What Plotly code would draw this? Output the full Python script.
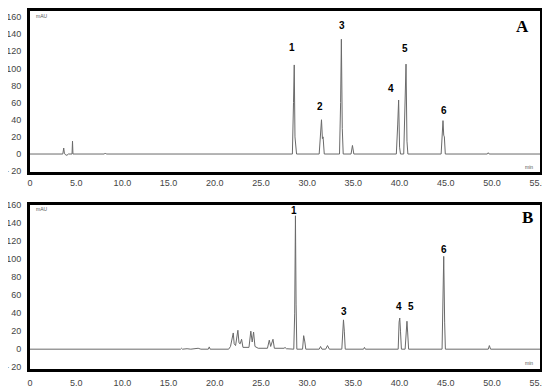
import plotly.graph_objects as go

# panel A chromatogram (time in min, signal in mAU)
time_a = [0.0, 3.55, 3.65, 3.72, 3.85, 4.0, 4.15, 4.55, 4.6, 4.65, 8.05, 8.15, 8.25,
          28.4, 28.52, 28.6, 28.68, 28.75, 28.85, 31.3, 31.45, 31.55, 31.65, 31.72, 31.85,
          33.5, 33.62, 33.7, 33.8, 33.9, 34.75, 34.9, 35.05, 39.65, 39.8, 39.9, 40.0, 40.1,
          40.45, 40.57, 40.7, 40.8, 40.9, 44.5, 44.62, 44.7, 44.78, 44.85, 44.95,
          49.5, 49.6, 49.7, 55.2]
signal_a = [0, 0, 7, 1, -1, -1.5, 0, 0, 15, 0, 0, 1.2, 0,
            0, 60, 104, 20, 12, 0, 0, 25, 40, 18, 20, 0,
            0, 60, 134, 30, 0, 0, 10, 0, 0, 35, 63, 8, 0,
            0, 60, 105, 15, 0, 0, 28, 39, 22, 20, 0,
            0, 1.5, 0, 0]

# panel B chromatogram
time_b = [0.0, 3.4, 3.5, 3.6, 4.2, 4.3, 4.4, 16.3, 16.4, 16.5, 17.0, 17.4, 18.2, 18.5,
          19.3, 19.4, 19.5, 21.5, 21.7, 21.85, 22.0, 22.1, 22.25, 22.5, 22.62, 22.75, 22.9, 23.05,
          23.7, 23.9, 24.05, 24.2, 24.35, 24.7, 25.7, 25.9, 26.05, 26.3, 26.45, 27.5, 27.6, 27.75,
          28.55, 28.65, 28.73, 28.8, 28.88, 29.5, 29.62, 29.75, 29.85, 31.3, 31.45, 31.6,
          32.0, 32.2, 32.4, 33.75, 33.86, 33.93, 34.02, 34.12, 36.1, 36.2, 36.3,
          39.85, 39.95, 40.02, 40.1, 40.2, 40.6, 40.72, 40.8, 40.88, 40.98,
          44.6, 44.7, 44.78, 44.88, 44.96, 49.6, 49.72, 49.85, 55.2]
signal_b = [0, 0, 0.8, 0, 0, 0.8, 0, 0, 1, 0, 0.5, 0, 1, 0,
            0, 2.5, 0, 0, 3, 12, 18, 6, 4, 21, 7, 6, 11, 2,
            2, 20, 8, 19, 3, 1, 1, 10, 3, 11, 1, 1, 2, 0.5,
            0, 40, 148, 50, 0, 0, 15, 8, 0, 0, 3, 0,
            0, 4, 0, 0, 30, 32.5, 20, 0, 0, 2, 0,
            0, 30, 34.5, 20, 0, 0, 28, 31, 18, 0,
            0, 40, 103, 30, 0, 0, 4, 0, 0]

# peak numbers and where they are written
labels_a = ['1', '2', '3', '4', '5', '6']
label_time_a = [28.37, 31.43, 33.78, 39.11, 40.62, 44.84]
label_y_a = [124, 56, 150, 77, 123, 51]
labels_b = ['1', '3', '4', '5', '6']
label_time_b = [28.62, 33.95, 39.9, 41.27, 44.76]
label_y_b = [154, 42, 47, 47, 111]

x_ticks = [0, 5, 10, 15, 20, 25, 30, 35, 40, 45, 50, 55]
x_text = ['0'] + [f'{v:.1f}' for v in x_ticks[1:]]
y_ticks = [-20, 0, 20, 40, 60, 80, 100, 120, 140, 160]
y_text = ['\u2014 20'] + [str(v) for v in y_ticks[1:]]

# the page body has an 8px margin, so the figure is 8px smaller than the window
W, H = 542, 384

fig = go.Figure()
fig.add_trace(go.Scatter(x=time_a, y=signal_a, mode='lines', line=dict(color='#6a6a6a', width=1),
                         xaxis='x', yaxis='y', showlegend=False))
fig.add_trace(go.Scatter(x=time_b, y=signal_b, mode='lines', line=dict(color='#6a6a6a', width=1),
                         xaxis='x2', yaxis='y2', showlegend=False))

tick_font = dict(size=9, color='#444', family='Liberation Sans')

ann = []
for t, x, y in zip(labels_a, label_time_a, label_y_a):
    ann.append(dict(x=x, y=y, xref='x', yref='y', text='<b>' + t + '</b>', showarrow=False,
                    font=dict(size=10, color='black', family='Liberation Sans')))
for t, x, y in zip(labels_b, label_time_b, label_y_b):
    ann.append(dict(x=x, y=y, xref='x2', yref='y2', text='<b>' + t + '</b>', showarrow=False,
                    font=dict(size=10, color='black', family='Liberation Sans')))
#panel letters
ann.append(dict(x=514 / W, y=1 - 18 / H, xref='paper', yref='paper', text='<b>A</b>', showarrow=False,
                xanchor='center', yanchor='middle',
                font=dict(size=17, color='black', family='Liberation Serif')))
ann.append(dict(x=519 / W, y=1 - 209 / H, xref='paper', yref='paper', text='<b>B</b>', showarrow=False,
                xanchor='center', yanchor='middle',
                font=dict(size=17, color='black', family='Liberation Serif')))
#tiny unit texts
for yy in [1 - 8 / H, 1 - 201 / H]:
    ann.append(dict(x=26 / W, y=yy, xref='paper', yref='paper', text='mAU', showarrow=False,
                    xanchor='left', yanchor='middle', font=dict(size=5, color='#555', family='Liberation Sans')))
for yy in [1 - 159 / H, 1 - 355 / H]:
    ann.append(dict(x=527 / W, y=yy, xref='paper', yref='paper', text='min', showarrow=False,
                    xanchor='right', yanchor='middle', font=dict(size=5, color='#555', family='Liberation Sans')))

xax = dict(range=[0, 55.2], domain=[22 / W, 532 / W], tickvals=x_ticks, ticktext=x_text,
           showgrid=False, zeroline=False, showline=True, linecolor='black', linewidth=3, mirror=True,
           ticks='outside', ticklen=3, tickcolor='rgba(0,0,0,0)', tickfont=tick_font, automargin=False)
yax = dict(range=[-21, 160], tickvals=y_ticks, ticktext=y_text,
           showgrid=False, zeroline=False, showline=True, linecolor='black', linewidth=3, mirror=True,
           ticks='outside', ticklen=4, tickcolor='rgba(0,0,0,0)', tickfont=tick_font, automargin=False)

fig.update_layout(
    width=W, height=H,
    margin=dict(l=0, r=0, t=0, b=0),
    paper_bgcolor='white', plot_bgcolor='white',
    xaxis=dict(xax, anchor='y', ticklen=0),
    #a little headroom so the 160 label stays inside the figure
    yaxis=dict(yax, range=[-21, 167], domain=[1 - 164 / H, 1 - 3 / H], anchor='x'),
    xaxis2=dict(xax, anchor='y2'),
    yaxis2=dict(yax, range=[-22, 160], domain=[1 - 361 / H, 1 - 197 / H], anchor='x2'),
    annotations=ann,
)

fig.write_html("out.html")
